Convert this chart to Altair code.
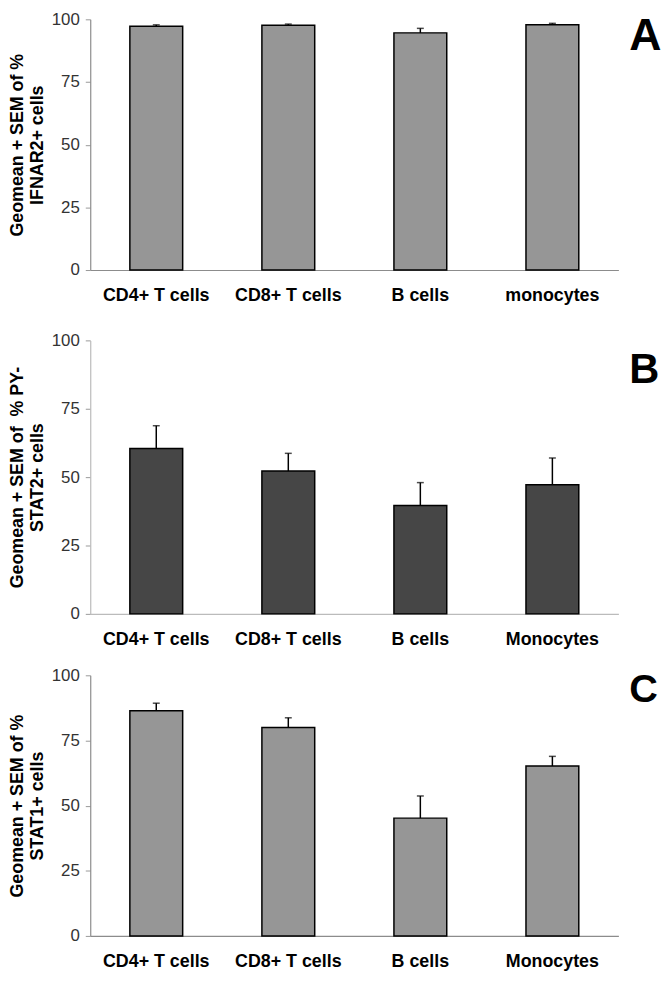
import altair as alt
import pandas as pd

# ---- data ----
cats_a = ["CD4+ T cells", "CD8+ T cells", "B cells", "monocytes"]
mean_a = [97.2, 97.6, 94.6, 97.8]
sem_a = [0.6, 0.5, 1.8, 0.6]

cats_b = ["CD4+ T cells", "CD8+ T cells", "B cells", "Monocytes"]
mean_b = [60.5, 52.2, 39.6, 47.2]
sem_b = [8.3, 6.5, 8.4, 9.8]

cats_c = ["CD4+ T cells", "CD8+ T cells", "B cells", "Monocytes"]
mean_c = [86.4, 80.0, 45.2, 65.2]
sem_c = [2.9, 3.7, 8.5, 3.7]

title_a = ["Geomean + SEM of %", "IFNAR2+ cells"]
title_b = ["Geomean + SEM of\u00a0 % PY-", "STAT2+ cells"]
title_c = ["Geomean + SEM of %", "STAT1+ cells"]

y_ticks = [0, 25, 50, 75, 100]

FONT = "Liberation Sans"
W = 533


def panel(cats, means, sems, title, letter, fill, domain_color, height,
          yrange, letter_y, letter_size):
    df = pd.DataFrame({
        "cat": cats,
        "mean": means,
        "upper": [m + s for m, s in zip(means, sems)],
    })
    base = alt.Chart(df)
    x = alt.X(
        "cat:N", sort=cats,
        scale=alt.Scale(paddingInner=0.6, paddingOuter=0.3),
        axis=alt.Axis(title=None, labelAngle=0, labelFont=FONT,
                      labelFontSize=18, labelFontWeight="bold",
                      labelColor="black", ticks=False,
                      domainColor=domain_color, domainWidth=1.2,
                      labelPadding=17, labelLimit=0),
    )
    yscale = alt.Scale(domain=[0, 100], nice=False)
    if yrange is not None:
        yscale = alt.Scale(domain=[0, 100], nice=False, range=yrange)
    y = alt.Y(
        "mean:Q", scale=yscale,
        axis=alt.Axis(values=y_ticks, title=title, titleFont=FONT,
                      titleFontSize=18, titleFontWeight="bold",
                      titleColor="black", titlePadding=5,
                      labelFont=FONT, labelFontSize=17, labelColor="#333333",
                      labelPadding=6, tickSize=5, tickColor="#999999",
                      domainColor=domain_color, domainWidth=1.2, grid=False),
    )
    bars = base.mark_bar(fill=fill, stroke="black", strokeWidth=1.5).encode(x=x, y=y)
    rule = base.mark_rule(color="black", strokeWidth=1.5).encode(
        x=alt.X("cat:N", sort=cats), y="mean:Q", y2="upper:Q")
    cap = base.mark_tick(orient="horizontal", size=7, thickness=1.5,
                         color="black").encode(
        x=alt.X("cat:N", sort=cats), y="upper:Q")
    lab = alt.Chart(pd.DataFrame({"t": [letter]})).mark_text(
        font=FONT, fontSize=letter_size, fontWeight="bold", color="black",
        align="left", baseline="top").encode(
        x=alt.value(544), y=alt.value(letter_y), text="t:N")
    return alt.layer(bars, rule, cap, lab).properties(width=W, height=height)


pa = panel(cats_a, mean_a, sem_a, title_a, "A", "#969696", "#8c8c8c",
           253, None, -5, 45)
pb = panel(cats_b, mean_b, sem_b, title_b, "B", "#464646", "#bbbbbb",
           285, [285, 9], 19, 42)
pc = panel(cats_c, mean_c, sem_c, title_c, "C", "#969696", "#8c8c8c",
           263, None, -5, 40)

chart = alt.vconcat(pa, pb, pc, spacing=62, bounds="flush").properties(
    padding={"left": 0, "top": -2, "right": 0, "bottom": 0}
).configure_view(stroke=None)

chart.save("out.html", embed_options={"renderer": "svg", "actions": False})
